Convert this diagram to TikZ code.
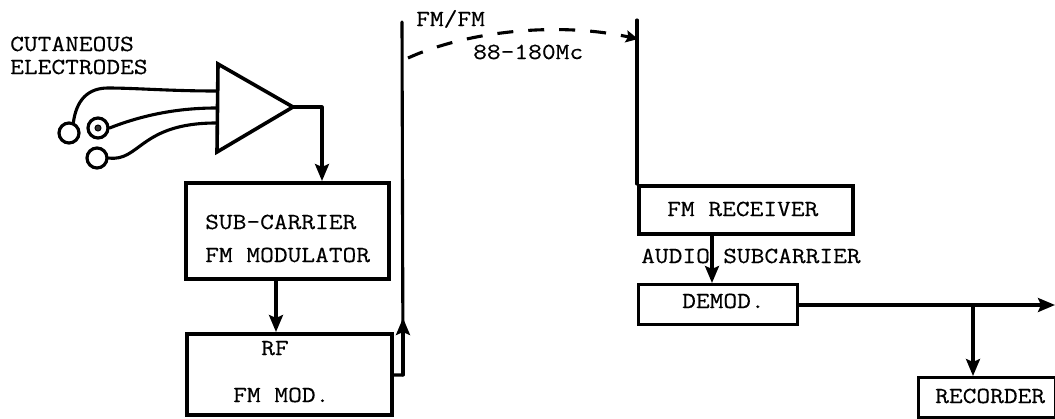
\documentclass[tikz,border=0pt]{standalone}
\usepackage{fontspec}
\setmonofont[FakeStretch=1.16,FakeBold=0.35]{Latin Modern Mono}
\usetikzlibrary{arrows.meta}
\tikzset{
  wire/.style={line width=3.1pt,line cap=round,line join=round},
  flow/.style={wire,-{Stealth[length=17pt,width=14pt,inset=3pt]}},
  blockbox/.style={draw,line width=4pt,inner sep=0pt,anchor=north west},
  lab/.style={font=\ttfamily\fontsize{23}{26}\selectfont,anchor=base west,inner sep=0pt},
  elec/.style={draw,circle,line width=3.2pt,minimum size=20pt,inner sep=0pt},
  amp/.style={line width=3.6pt,line join=miter}
}
\begin{document}
\begin{tikzpicture}[x=1pt,y=-1pt]
\useasboundingbox (0,0) rectangle (1055,418);
% labels
\node[lab] (tcut) at (10,51) {CUTANEOUS};
\node[lab] (tele) at (10,74) {ELECTRODES};
\node[lab] (tfm) at (416,26) {FM/FM};
\node[lab] (tfreq) at (473,59) {88-180Mc};
\node[lab] (taudio) at (641,263) {AUDIO};
\node[lab] (tsub) at (723,263) {SUBCARRIER};
% amplifier
\coordinate (a1) at (218,64);
\coordinate (a2) at (217,152);
\coordinate (aout) at (293,107);
\draw[amp] (a1) -- (aout) -- (a2) -- cycle;
% electrodes
\node[elec] (e1) at (69,133) {};
\node[elec] (e2) at (98,128) {};
\node[draw,circle,fill=black!80,line width=1pt,minimum size=6pt,inner sep=0pt] (e2c) at (98,128) {};
\node[elec] (e3) at (97,158) {};
\coordinate (i1) at (216,91);
\coordinate (i2) at (216,108);
\coordinate (i3) at (216,123);
\draw[wire] (e1.north east) ++(-4,-1) .. controls (76,100) and (88,88) .. (108,88) .. controls (135,88) and (170,91) .. (i1);
\draw[wire] (e2.east) .. controls (140,116) and (175,108) .. (i2);
\draw[wire] (e3.east) .. controls (140,162) and (140,123) .. (i3);
% blocks
\node[blockbox,minimum width=203pt,minimum height=96pt] (sub) at (184,181) {};
\node[lab] (tsc) at (205,229) {SUB-CARRIER};
\node[lab] (tfmm) at (205,262) {FM MODULATOR};
\node[blockbox,minimum width=205pt,minimum height=81pt] (rf) at (185,332) {};
\node[lab] (trf) at (261,355) {RF};
\node[lab] (tfmod) at (233,402) {FM MOD.};
\node[blockbox,minimum width=214pt,minimum height=48pt] (rx) at (637,184) {};
\node[lab] (trx) at (667,216) {FM RECEIVER};
\node[blockbox,line width=3.4pt,minimum width=159pt,minimum height=40pt] (dem) at (637,283) {};
\node[lab] (tdem) at (682,308) {DEMOD.};
\node[blockbox,line width=3.4pt,minimum width=137pt,minimum height=40pt] (rec) at (917,376) {};
\node[lab] (trec) at (935,403) {RECORDER};
% connectors
\coordinate (c1) at (322,107);
\draw[flow] (aout) -- (c1) -- (c1 |- sub.north);
\draw[flow] (sub.south -| 276,0) -- (rf.north -| 276,0);
% antennas
\coordinate (ant1t) at (402,22);
\coordinate (ant1b) at (403,375);
\coordinate (ant1a) at (403,318);
\coordinate (rfout) at (390,375);
\draw[wire] (rf.east |- rfout) -- (ant1b) -- (ant1t);
\draw[flow] (ant1b) -- (ant1a);
\coordinate (ant2t) at (637,20);
\draw[wire] (ant2t) -- (rx.north west);
\coordinate (d1) at (408,58);
\coordinate (d2) at (638,39);
\draw[wire,line cap=butt,dash pattern=on 16pt off 15pt,-{Stealth[length=12pt,width=12pt,inset=2pt]}] (d1) .. controls (470,30) and (560,22) .. (d2);
\draw[flow] (rx.south -| 712,0) -- (dem.north -| 712,0);
\coordinate (out) at (1055,305);
\draw[flow] (dem.east |- out) -- (out);
\coordinate (br) at (973,305);
\draw[flow] (br) -- (br |- rec.north);
\end{tikzpicture}
\end{document}
